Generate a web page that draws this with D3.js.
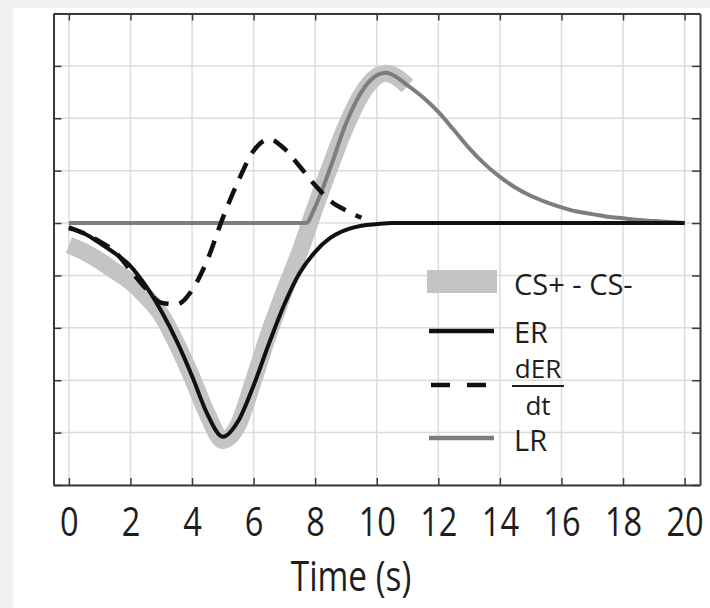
<!DOCTYPE html>
<head>
  <meta charset="utf-8">
  <style>
    body { margin: 0; background: #fff; }
    text { font-family: "Open Sans", sans-serif; fill: #1e1e1e; }
  </style>
  <script src="https://d3js.org/d3.v7.min.js" charset="utf-8"></script>
</head>
<body>
<script>
  var w = 710;
  var h = 608;

  // time axis (s)
  var xTicks = [0, 2, 4, 6, 8, 10, 12, 14, 16, 18, 20];
  var yTicks = [-5, -4, -3, -2, -1, 0, 1, 2, 3, 4];

  // ER and shared time base, 0.5 s steps
  var time = [0, 0.5, 1, 1.5, 2, 2.5, 3, 3.5, 4, 4.5, 5, 5.5, 6, 6.5, 7, 7.5, 8, 8.5, 9, 9.5,
              10, 10.5, 11, 11.5, 12, 12.5, 13, 13.5, 14, 14.5, 15, 15.5, 16, 16.5, 17, 17.5, 18, 18.5, 19, 19.5, 20];
  var er = [-0.10, -0.20, -0.38, -0.58, -0.82, -1.20, -1.68, -2.25, -2.92, -3.65, -4.08, -3.78, -3.10, -2.30, -1.55, -0.95, -0.55, -0.28, -0.13, -0.05,
            -0.02, 0, 0, 0, 0, 0, 0, 0, 0, 0, 0, 0, 0, 0, 0, 0, 0, 0, 0, 0, 0];

  // CS+ - CS- (thick grey band)
  var csTime = [0, 0.5, 1, 1.5, 2, 2.5, 3, 3.5, 4, 4.5, 5, 5.5, 6, 6.5, 7, 7.5, 8, 8.5, 9, 9.5, 10, 10.3, 11];
  var csDiff = [-0.42, -0.55, -0.72, -0.92, -1.12, -1.40, -1.75, -2.30, -2.95, -3.65, -4.15, -3.85, -3.00, -2.10, -1.30, -0.55, 0.30, 1.10, 1.85, 2.45, 2.80, 2.86, 2.62];

  // dER/dt (dashed)
  var derTime = [0, 0.5, 1, 1.5, 2, 2.5, 3, 3.5, 4, 4.5, 5, 5.5, 6, 6.5, 7, 7.5, 8, 8.5, 9, 9.5];
  var derDt = [-0.08, -0.20, -0.35, -0.55, -0.90, -1.25, -1.52, -1.55, -1.28, -0.70, 0.10, 0.80, 1.38, 1.60, 1.42, 1.08, 0.72, 0.42, 0.24, 0.10];

  // LR (mid grey)
  var lrTime = [0, 7.7, 8, 8.5, 9, 9.5, 10, 10.3, 11, 11.5, 12, 12.5, 13, 13.5, 14, 14.5, 15, 15.5, 16, 16.5, 17, 17.5, 18, 18.5, 19, 19.5, 20];
  var lr = [0, 0, 0.31, 1.07, 1.90, 2.50, 2.82, 2.87, 2.63, 2.40, 2.12, 1.78, 1.43, 1.13, 0.88, 0.68, 0.52, 0.40, 0.30, 0.22, 0.17, 0.12, 0.09, 0.06, 0.04, 0.02, 0];

  var legendLabels = ["CS+ - CS-", "ER", "dER", "LR"];

  var xScale = d3.scaleLinear().domain([-0.5, 20.5]).range([53.5, 700]);
  var yScale = d3.scaleLinear().domain([-5, 4]).range([485, 13.5]);

  var svg = d3.select("body").append("svg")
    .attr("width", w)
    .attr("height", h);

  // light page frame
  svg.append("rect").attr("width", w).attr("height", h).attr("fill", "#f1f1f1");
  svg.append("rect").attr("x", 13).attr("y", 8).attr("width", w - 13).attr("height", h - 8).attr("fill", "#fff");

  // grid
  svg.append("g").selectAll("line").data(xTicks).enter().append("line")
    .attr("x1", function(d) { return xScale(d); })
    .attr("x2", function(d) { return xScale(d); })
    .attr("y1", yScale(4)).attr("y2", yScale(-5))
    .attr("stroke", "#dcdcdc").attr("stroke-width", 1.5);
  svg.append("g").selectAll("line").data(yTicks).enter().append("line")
    .attr("y1", function(d) { return yScale(d); })
    .attr("y2", function(d) { return yScale(d); })
    .attr("x1", xScale(-0.5)).attr("x2", xScale(20.5))
    .attr("stroke", "#dcdcdc").attr("stroke-width", 1.5);

  // axes, ticks pointing inward
  var axBottom = svg.append("g").attr("transform", "translate(0," + yScale(-5) + ")")
    .call(d3.axisBottom(xScale).tickValues(xTicks).tickSizeInner(-7).tickSizeOuter(0));
  var axTop = svg.append("g").attr("transform", "translate(0," + yScale(4) + ")")
    .call(d3.axisTop(xScale).tickValues(xTicks).tickSizeInner(-7).tickSizeOuter(0).tickFormat(""));
  var axLeft = svg.append("g").attr("transform", "translate(" + xScale(-0.5) + ",0)")
    .call(d3.axisLeft(yScale).tickValues(yTicks).tickSizeInner(-8).tickSizeOuter(0).tickFormat(""));
  var axRight = svg.append("g").attr("transform", "translate(" + xScale(20.5) + ",0)")
    .call(d3.axisRight(yScale).tickValues(yTicks).tickSizeInner(-8).tickSizeOuter(0).tickFormat(""));

  [axBottom, axTop, axLeft, axRight].forEach(function(g) {
    g.select(".domain").attr("stroke", "#3a3a3a").attr("stroke-width", 2);
    g.selectAll(".tick line").attr("stroke", "#3a3a3a").attr("stroke-width", 1.5);
  });
  axBottom.attr("font-family", null).attr("font-size", null);
  axBottom.selectAll(".tick text")
    .attr("font-size", 37)
    .attr("fill", "#1e1e1e")
    .attr("y", 0).attr("dy", 0)
    .attr("transform", "translate(0,51) scale(0.88,1.1)");

  svg.append("text")
    .attr("transform", "translate(351,591) scale(0.9,1.12)")
    .attr("text-anchor", "middle")
    .attr("font-size", 37)
    .text("Time (s)");

  function makeLine(xs) {
    return d3.line()
      .x(function(d, i) { return xScale(xs[i]); })
      .y(function(d) { return yScale(d); })
      .curve(d3.curveMonotoneX);
  }

  // CS+ - CS- band
  svg.append("path").datum(csDiff)
    .attr("d", makeLine(csTime))
    .attr("fill", "none").attr("stroke", "#c4c4c4").attr("stroke-width", 17);

  // LR
  svg.append("path").datum(lr)
    .attr("d", makeLine(lrTime))
    .attr("fill", "none").attr("stroke", "#7d7d7d").attr("stroke-width", 4);

  // ER
  svg.append("path").datum(er)
    .attr("d", makeLine(time))
    .attr("fill", "none").attr("stroke", "#111").attr("stroke-width", 4);

  // dER/dt
  svg.append("path").datum(derDt)
    .attr("d", makeLine(derTime))
    .attr("fill", "none").attr("stroke", "#111").attr("stroke-width", 4.5)
    .attr("stroke-dasharray", "17,11");

  // legend
  var lg = svg.append("g");
  lg.append("rect").attr("x", 427).attr("y", 270).attr("width", 70).attr("height", 23).attr("fill", "#c4c4c4");
  lg.append("line").attr("x1", 429).attr("x2", 494).attr("y1", 331).attr("y2", 331)
    .attr("stroke", "#111").attr("stroke-width", 4.5);
  lg.append("line").attr("x1", 431).attr("x2", 486).attr("y1", 385).attr("y2", 385)
    .attr("stroke", "#111").attr("stroke-width", 4.5).attr("stroke-dasharray", "19,17");
  lg.append("line").attr("x1", 429).attr("x2", 494).attr("y1", 438).attr("y2", 438)
    .attr("stroke", "#7d7d7d").attr("stroke-width", 4.5);

  lg.append("text").attr("x", 514).attr("y", 295).attr("font-size", 29).text(legendLabels[0]);
  lg.append("text").attr("x", 514).attr("y", 343).attr("font-size", 29).text(legendLabels[1]);
  lg.append("text").attr("x", 538).attr("y", 378).attr("font-size", 26).attr("text-anchor", "middle").text(legendLabels[2]);
  lg.append("line").attr("x1", 512).attr("x2", 564).attr("y1", 386).attr("y2", 386)
    .attr("stroke", "#1e1e1e").attr("stroke-width", 1.8);
  lg.append("text").attr("x", 538).attr("y", 415).attr("font-size", 26).attr("text-anchor", "middle").text("dt");
  lg.append("text").attr("x", 514).attr("y", 451).attr("font-size", 29).text(legendLabels[3]);
</script>
</body>
